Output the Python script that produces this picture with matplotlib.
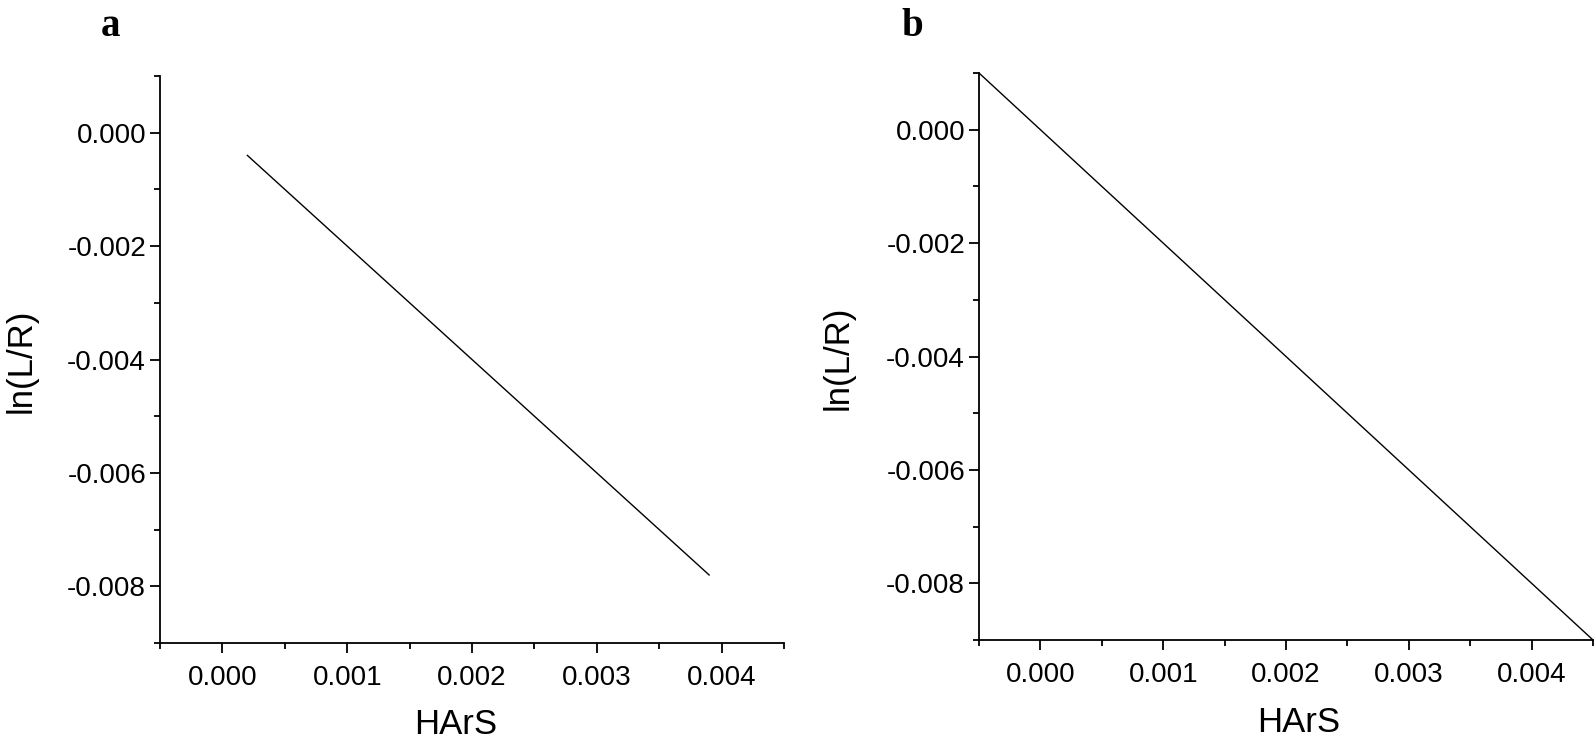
import matplotlib
matplotlib.use("Agg")
import matplotlib.pyplot as plt
from matplotlib.ticker import MultipleLocator, FormatStrFormatter

# Data
harS_a = [0.0002, 0.0039]
ln_a = [-0.0004, -0.0078]
harS_b = [-0.0005, 0.0045]
ln_b = [0.0010, -0.0090]
panel_letters = ["a", "b"]
x_label = "HArS"
y_label = "ln(L/R)"

plt.rcParams['font.family'] = ['Liberation Sans', 'DejaVu Sans']
tick_fs, lab_fs = 20, 25

W, H = 1594, 749
fig = plt.figure(figsize=(W / 100, H / 100), dpi=100)

def px_axes(l, r, t, b):
    return fig.add_axes([l / W, 1 - b / H, (r - l) / W, (b - t) / H])

axa = px_axes(160, 784, 76, 643)
axb = px_axes(979, 1593, 73, 640)

for ax, xs, ys, letter, lx in [(axa, harS_a, ln_a, panel_letters[0], 110),
                                (axb, harS_b, ln_b, panel_letters[1], 912)]:
    ax.plot(xs, ys, color='black', lw=1.0, clip_on=False)
    ax.set_xlim(-0.0005, 0.0045)
    ax.set_ylim(-0.009, 0.001)
    for s in ['top', 'right']:
        ax.spines[s].set_visible(False)
    for s in ['left', 'bottom']:
        ax.spines[s].set_linewidth(1.3)
    ax.xaxis.set_major_locator(MultipleLocator(0.001))
    ax.xaxis.set_minor_locator(MultipleLocator(0.0005))
    ax.yaxis.set_major_locator(MultipleLocator(0.002))
    ax.yaxis.set_minor_locator(MultipleLocator(0.001))
    ax.xaxis.set_major_formatter(FormatStrFormatter('%.3f'))
    ax.yaxis.set_major_formatter(FormatStrFormatter('%.3f'))
    ax.tick_params(which='major', length=7, width=1.3, labelsize=tick_fs, direction='out')
    ax.tick_params(which='minor', length=4, width=1.3, direction='out')
    ax.tick_params(axis='x', which='major', pad=9)
    ax.tick_params(axis='y', which='major', pad=3)
    ax.set_xlabel(x_label, fontsize=lab_fs)
    ax.set_ylabel(y_label, fontsize=lab_fs)
    fig.text(lx / W, 1 - 27 / H, letter, fontsize=28, fontweight='bold',
             family='Liberation Serif', ha='center', va='center')

# label positions (axes fraction)
axa.xaxis.set_label_coords((456 - 160) / 624, -(724 - 643) / 567)
axa.yaxis.set_label_coords((21 - 160) / 624, (643 - 361) / 567)
axb.xaxis.set_label_coords((1299 - 979) / 614, -(722 - 640) / 567)
axb.yaxis.set_label_coords((838 - 979) / 614, (640 - 358) / 567)
for ax in (axa, axb):
    ax.xaxis.label.set_va('center')
    ax.yaxis.label.set_va('center')

fig.savefig('out.png', dpi=100)
